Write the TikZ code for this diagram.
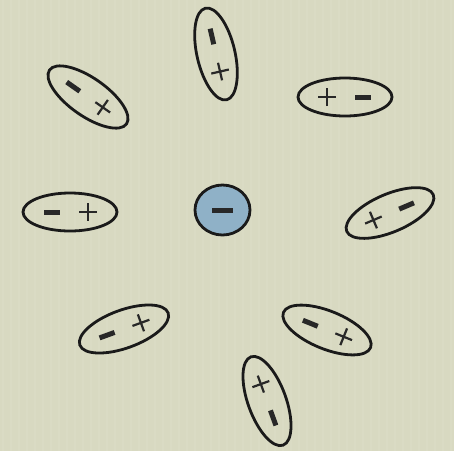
\documentclass[tikz,border=0pt]{standalone}
\definecolor{bg}{RGB}{216,217,193}
\definecolor{ink}{RGB}{26,26,26}
\definecolor{sign}{RGB}{40,40,40}
\definecolor{ionblue}{RGB}{143,177,199}
\tikzset{
  dipole/.style={draw=ink, line width=2.8pt},
  minusbar/.style={draw=sign, line width=5pt},
  plusbar/.style={draw=sign, line width=2.2pt},
}
\newcommand{\dip}[4]{% name, x, y, angle
  \begin{scope}[shift={(#2,#3)}, rotate=#4]
    \node[dipole, ellipse, minimum width=94pt, minimum height=38pt, inner sep=0pt, rotate=#4] (#1) at (0,0) {};
    \draw[minusbar] (-26,0) -- (-10,0);
    \draw[plusbar] (9,0) -- (27,0) (18,-9) -- (18,9);
  \end{scope}}
\usetikzlibrary{shapes.geometric}
\begin{document}
\begin{tikzpicture}[x=1pt,y=-1pt]
  \fill[bg] (0,0) rectangle (454,451);
  \useasboundingbox (0,0) rectangle (454,451);
  \foreach \i in {3,11,...,451} { \draw[white, opacity=0.06, line width=2pt] (\i,0) -- (\i,451); }
  \node[draw=ink, line width=2.8pt, fill=ionblue, ellipse, minimum width=55pt, minimum height=50pt, inner sep=0pt] (ion) at (222.5,210) {};
  \draw[draw=sign, line width=5pt] (212,210) -- (233,210);
  \dip{d1}{216}{54}{-77}
  \dip{d2}{88}{97}{-35}
  \dip{d3}{345}{97}{180}
  \dip{d4}{70}{212}{0}
  \dip{d5}{390}{213}{-157}
  \dip{d6}{124}{329}{20}
  \dip{d7}{327}{330}{-22}
  \dip{d8}{267}{401}{110}
\end{tikzpicture}
\end{document}
